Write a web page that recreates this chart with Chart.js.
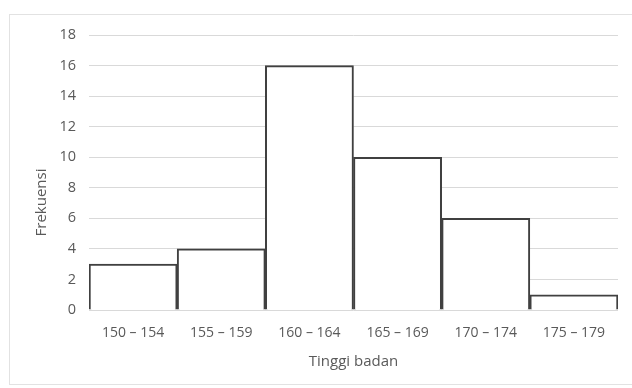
<!DOCTYPE html>
<html>
<head>
<meta charset="utf-8">
<script src="https://cdn.jsdelivr.net/npm/chart.js@4.4.1/dist/chart.umd.min.js"></script>
<style>
  html, body { margin: 0; padding: 0; background: #ffffff; overflow: hidden; }
  #wrap { position: relative; width: 632px; height: 388px; overflow: hidden; }
  #frame { position: absolute; left: 9px; top: 14px; width: 660px; height: 371px; border: 1px solid #e2e2e2; box-sizing: border-box; }
  canvas { position: absolute; left: 0; top: 0; }
</style>
</head>
<body>
<div id="wrap">
  <div id="frame"></div>
  <canvas id="c" width="632" height="388"></canvas>
</div>
<script>
const categories = ["150 – 154", "155 – 159", "160 – 164", "165 – 169", "170 – 174", "175 – 179"];
const frequencies = [3, 4, 16, 10, 6, 1];
const yTitle = "Frekuensi";
const xTitle = "Tinggi badan";

const textColor = "#595959";
const fontFamily = "'Open Sans', 'Liberation Sans', sans-serif";

const yTitlePlugin = {
  id: 'yTitlePlugin',
  afterDraw(chart) {
    const ctx = chart.ctx;
    const area = chart.chartArea;
    ctx.save();
    ctx.font = "15px " + fontFamily;
    ctx.fillStyle = textColor;
    ctx.textAlign = 'center';
    ctx.textBaseline = 'middle';
    ctx.translate(42, (area.top + area.bottom) / 2 + 30);
    ctx.rotate(-Math.PI / 2);
    ctx.fillText(yTitle, 0, 0);
    ctx.restore();
  }
};

new Chart(document.getElementById('c'), {
  type: 'bar',
  data: {
    labels: categories,
    datasets: [{
      data: frequencies,
      backgroundColor: '#ffffff',
      borderColor: '#404040',
      borderWidth: 2,
      borderSkipped: 'start',
      categoryPercentage: 1.0,
      barPercentage: 1.0
    }]
  },
  options: {
    responsive: false,
    animation: false,
    layout: { padding: { left: 10, right: 14, top: 35, bottom: 0 } },
    plugins: { legend: { display: false }, tooltip: { enabled: false } },
    scales: {
      x: {
        grid: { display: false, drawTicks: false },
        border: { display: false },
        ticks: { color: textColor, font: { family: fontFamily, size: 14 }, padding: 15, maxRotation: 0 },
        title: { display: true, text: xTitle, color: textColor, font: { family: fontFamily, size: 15 }, padding: { top: 0, bottom: 17 } },
        afterFit(scale) { scale.height = 78; }
      },
      y: {
        min: 0, max: 18,
        grid: { color: '#d9d9d9', lineWidth: 1, drawTicks: false },
        border: { display: false },
        ticks: { stepSize: 2, color: textColor, font: { family: fontFamily, size: 14.5 }, padding: 13 },
        afterFit(scale) { scale.width = 79; }
      }
    }
  },
  plugins: [yTitlePlugin]
});
</script>
</body>
</html>
